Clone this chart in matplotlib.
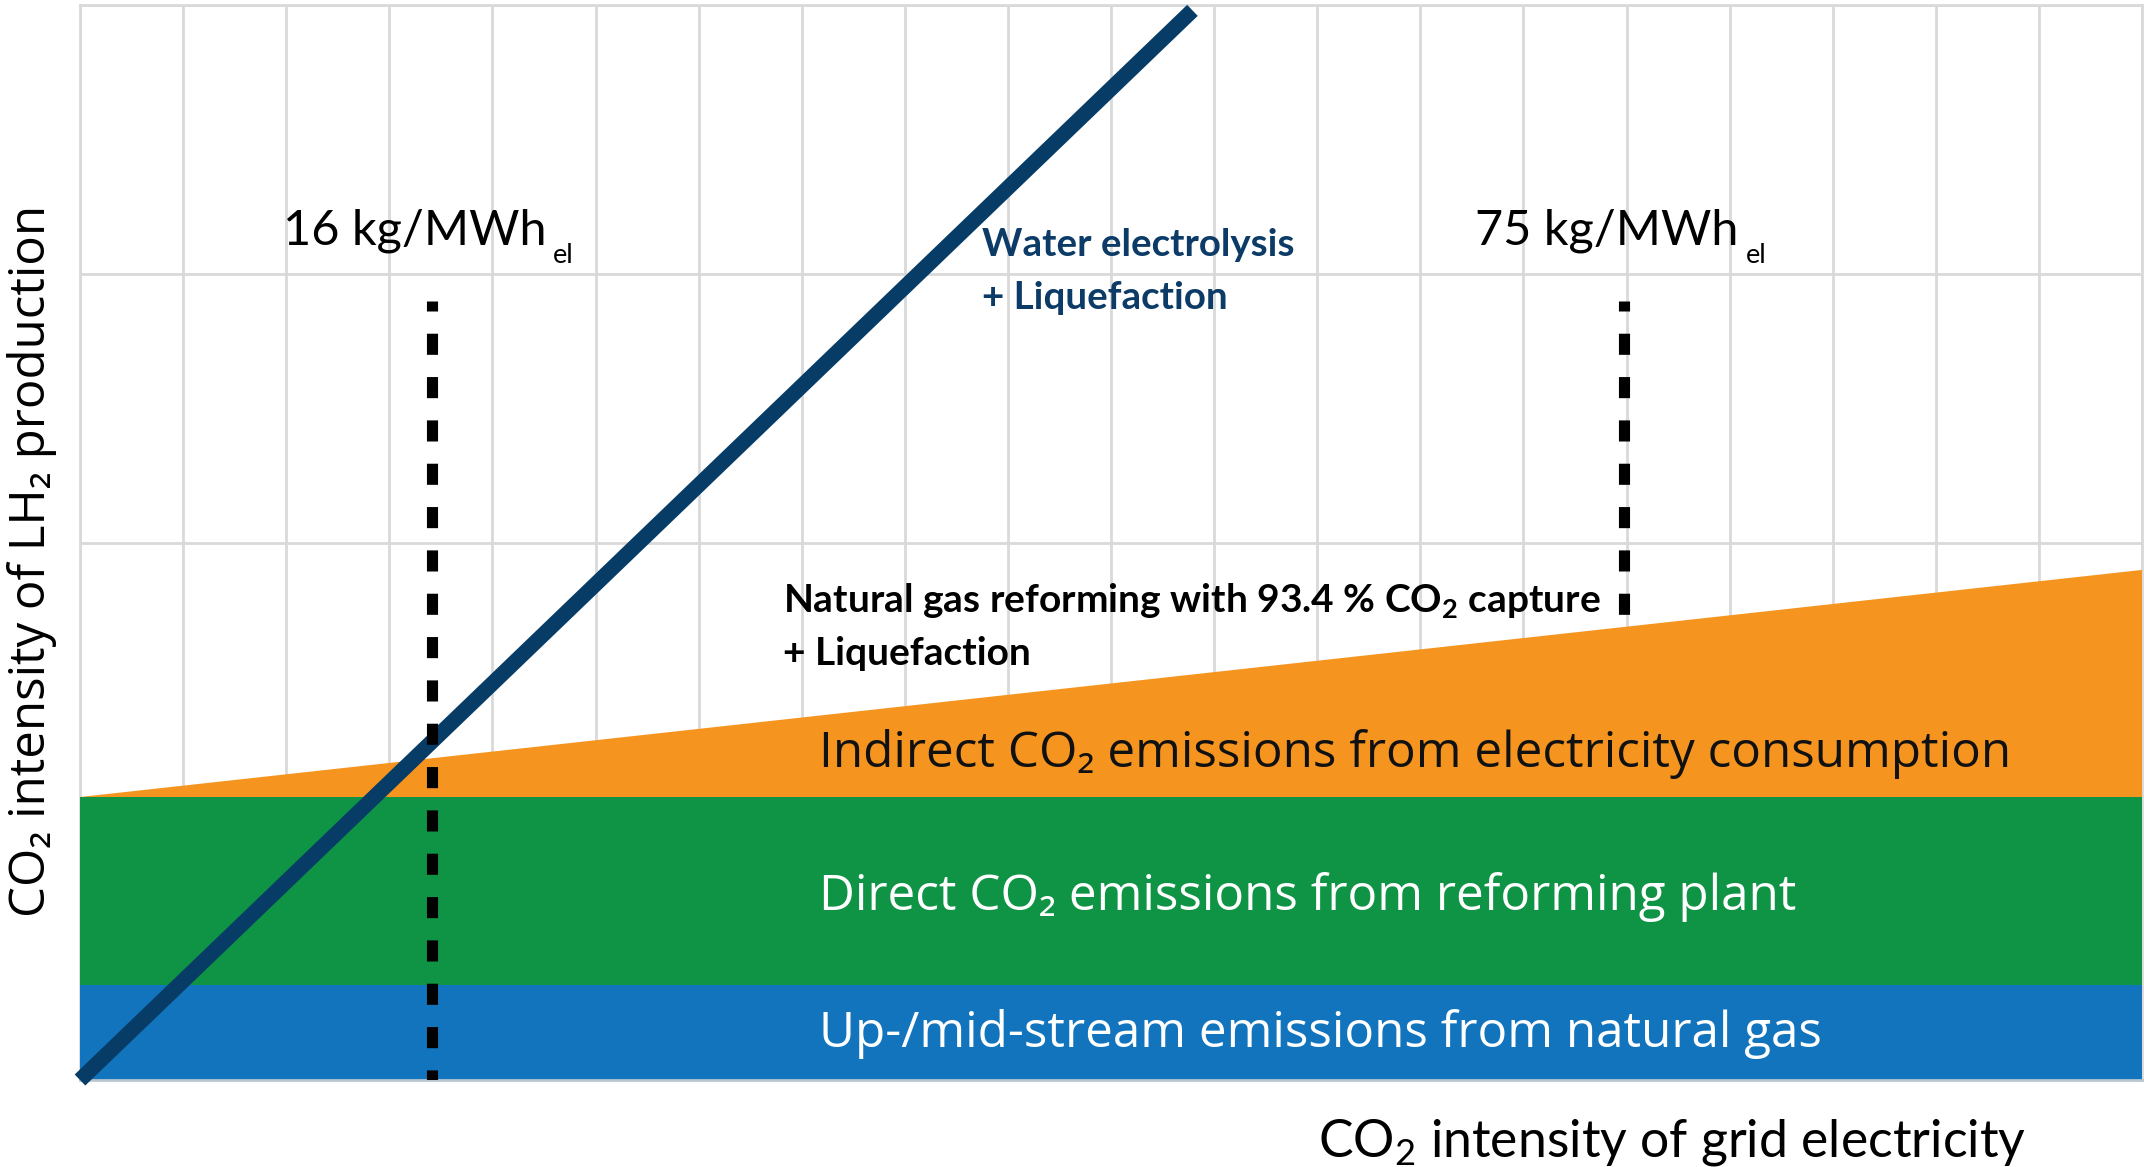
import matplotlib
matplotlib.use("Agg")
import matplotlib.pyplot as plt

plt.rcParams['mathtext.fontset'] = 'custom'
plt.rcParams['mathtext.rm'] = 'Lato'
plt.rcParams['mathtext.bf'] = 'Lato:bold'

# schematic axes: 20 grid columns, 4 grid rows (no units shown)
band_x = [0, 20]
upstream = [0.353, 0.353]
direct = [0.70, 0.70]
indirect = [0.0, 0.845]
band_labels = ["Up-/mid-stream emissions from natural gas",
               "Direct CO₂ emissions from reforming plant",
               "Indirect CO₂ emissions from electricity consumption"]
band_colors = ["#1174bd", "#0e9444", "#f5951f"]
band_text_colors = ["white", "white", "#111111"]

electrolysis_x = [0, 10.79]
electrolysis_y = [0, 3.98]

marker_x = [3.415, 14.98]
marker_top = 2.90
marker_labels = ["16 kg/MWh", "75 kg/MWh"]


def main():
    fig = plt.figure(figsize=(21.44, 11.67), dpi=100)
    ax = fig.add_axes([80 / 2144, 87 / 1167, 2062 / 2144, 1075 / 1167])

    ax.stackplot(band_x, upstream, direct, indirect, colors=band_colors, zorder=1)

    ax.plot(electrolysis_x, electrolysis_y, color="#063c66", lw=11,
            solid_capstyle="butt", clip_on=False, zorder=3)

    # 16 kg line sits on top of everything, 75 kg line goes behind the bands
    for x, z in zip(marker_x, [4, 0.8]):
        ax.plot([x, x], [marker_top, 0], color="black", lw=8,
                linestyle=(1.0, (1.9, 2.0)), zorder=z)
    for x, lab in zip(marker_x, marker_labels):
        t = ax.text(x - 0.17, 3.107, lab, ha="center", va="baseline", fontsize=35,
                    family="Lato", color="black", zorder=5)
        # "el" subscript, Word-style: small and well below the baseline
        ax.annotate("el", xy=(1, 3.107), xycoords=(t, "data"), xytext=(5, -13),
                    textcoords="offset points", va="baseline", ha="left",
                    fontsize=19.5, family="Lato", zorder=5)

    base = [0.123, 0.633, 1.165]
    for lab, y, c in zip(band_labels, base, band_text_colors):
        ax.text(7.17, y, lab, ha="left", va="baseline", fontsize=35.6,
                family=["Open Sans", "DejaVu Sans"], color=c, zorder=5)

    ax.text(8.75, 3.065, "Water electrolysis", fontsize=27.7, family="Lato",
            fontweight="bold", color="#0b3b66", va="baseline", zorder=5)
    ax.text(8.75, 2.87, "+ Liquefaction", fontsize=27.7, family="Lato",
            fontweight="bold", color="#0b3b66", va="baseline", zorder=5)
    ax.text(6.82, 1.738, "Natural gas reforming with 93.4 % CO$_\\mathbf{2}$ capture",
            fontsize=28, family="Lato", fontweight="bold", color="black",
            va="baseline", zorder=5)
    ax.text(6.82, 1.544, "+ Liquefaction", fontsize=28, family="Lato",
            fontweight="bold", color="black", va="baseline", zorder=5)

    ax.set_xlim(0, 20)
    ax.set_ylim(0, 4)
    ax.set_xticks(range(0, 21))
    ax.set_yticks(range(0, 5))
    ax.tick_params(length=0, labelbottom=False, labelleft=False)
    ax.set_axisbelow(True)
    ax.grid(True, color="#d9d9d9", lw=2)
    for side in ["top", "left", "right"]:
        ax.spines[side].set_color("#d9d9d9")
        ax.spines[side].set_linewidth(2)
        ax.spines[side].set_zorder(0.6)
    ax.spines["bottom"].set_color("#b9c6d2")
    ax.spines["bottom"].set_linewidth(2)

    fig.text(0.021, 0.519, "CO₂ intensity of LH₂ production", rotation=90,
             rotation_mode="anchor", ha="center", va="baseline", fontsize=35.5,
             family=["Open Sans", "DejaVu Sans"])
    fig.text(0.780, 10 / 1167, "CO$_\\mathrm{2}$ intensity of grid electricity",
             ha="center", va="baseline", fontsize=37.3, family="Lato")

    fig.savefig("out.png", dpi=100)


if __name__ == '__main__':
    main()
